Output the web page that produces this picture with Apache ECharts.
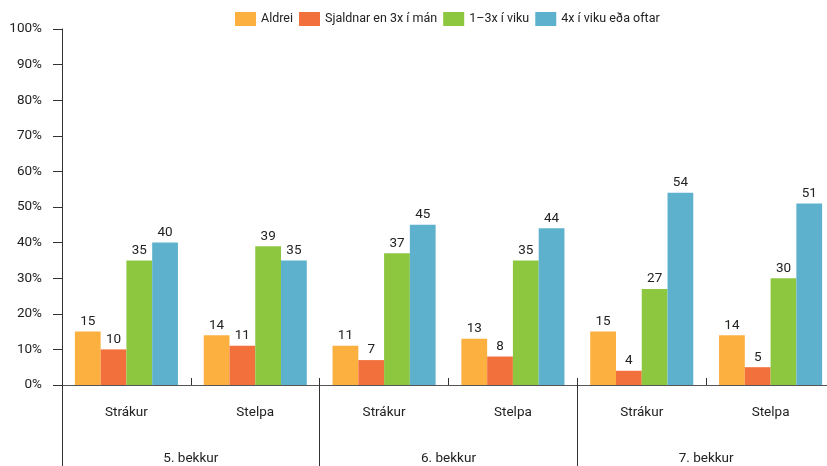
<!DOCTYPE html>
<html><head><meta charset="utf-8">
<script src="https://cdn.jsdelivr.net/npm/echarts@6/dist/echarts.min.js"></script>
<style>html,body{margin:0;padding:0;background:#fff}#c{width:827px;height:466px}</style>
</head><body><div id="c"></div>
<script>
var innerCats = ['Strákur','Stelpa','Strákur','Stelpa','Strákur','Stelpa'];
var outerCats = ['5. bekkur','6. bekkur','7. bekkur'];
var seriesNames = ['Aldrei','Sjaldnar en 3x í mán','1–3x í viku','4x í viku eða oftar'];
var aldrei = [15,14,11,13,15,14];
var sjaldnar = [10,11,7,8,4,5];
var vika13 = [35,39,37,35,27,30];
var vika4 = [40,35,45,44,54,51];
var colors = ['#FBB040','#F2703C','#8DC63F','#5DB1CD'];

var font = 'Roboto';
var chart = echarts.init(document.getElementById('c'));
var vals = [aldrei, sjaldnar, vika13, vika4];
chart.setOption({
  animation:false,
  textStyle:{fontFamily:font},
  color:colors,
  legend:{top:7,left:230,itemWidth:21,itemHeight:14,itemGap:6,
    icon:'rect',
    textStyle:{fontSize:12.5,color:'#222',fontFamily:font}},
  grid:{left:62,width:773,top:29,bottom:81,containLabel:false,outerBoundsMode:'none'},
  xAxis:[{
    type:'category',data:innerCats,position:'bottom',
    axisLine:{show:true,lineStyle:{color:'#555',width:1}},
    axisTick:{show:true,inside:true,length:7,lineStyle:{color:'#333'}},
    axisLabel:{margin:21,fontSize:13.5,color:'#222',fontFamily:font}
  },{
    type:'category',data:outerCats,position:'bottom',
    axisLine:{show:false},
    axisTick:{show:true,inside:false,length:81,lineStyle:{color:'#333'}},
    axisLabel:{margin:67,fontSize:13.5,color:'#222',fontFamily:font}
  }],
  yAxis:{type:'value',min:0,max:100,interval:10,
    axisLine:{show:true,lineStyle:{color:'#333'}},
    axisTick:{show:true,length:9,lineStyle:{color:'#333'}},
    splitLine:{show:false},
    axisLabel:{formatter:'{value}%',margin:20,fontSize:13.5,color:'#222',fontFamily:font}
  },
  series:seriesNames.map(function(n,i){
    return {name:n,type:'bar',xAxisIndex:0,data:vals[i],barGap:'0%',barCategoryGap:'20%',
      label:{show:true,position:'top',distance:3,fontSize:13.5,color:'#222',fontFamily:font}};
  })
});
</script></body></html>
